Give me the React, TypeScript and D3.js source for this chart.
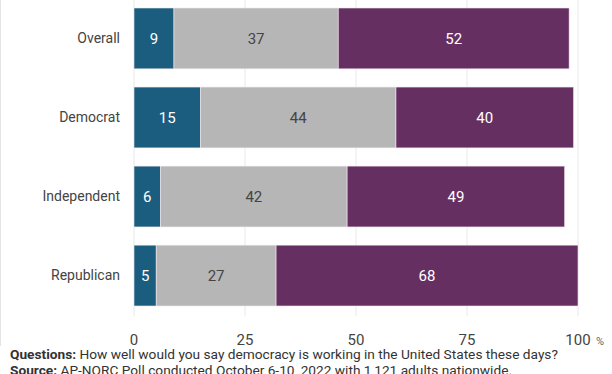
import React from 'react';
import * as d3 from 'd3';

const categories = ['Overall', 'Democrat', 'Independent', 'Republican'];
const seriesNames = ['Well', 'Neither', 'Not well'];
const wellValues = [9, 15, 6, 5];
const neitherValues = [37, 44, 42, 27];
const notWellValues = [52, 40, 49, 68];
const tickValues = [0, 25, 50, 75, 100];
const colors = ['#1b5d7e', '#b6b6b6', '#662f62'];
const labelColors = ['#ffffff', '#444444', '#ffffff'];

const W = 612;
const H = 374;
const FONT = 'Roboto, "Noto Sans", sans-serif';

const App = () => {
  const x = d3.scaleLinear().domain([0, 100]).range([134, 578]);
  const y = d3.scaleBand<string>()
    .domain(categories)
    .range([-1.1, 315.1])
    .paddingInner(0.23)
    .paddingOuter(0.115);

  const rows = categories.map((c, i) => ({
    category: c,
    well: wellValues[i],
    neither: neitherValues[i],
    notWell: notWellValues[i],
  }));
  const stacked = d3.stack<any>().keys(['well', 'neither', 'notWell'])(rows);

  return (
    <div style={{ position: 'fixed', left: 0, top: 0 }}>
      <svg width={W} height={H} style={{ display: 'block', background: '#fff' }}>
        {/* left border */}
        <line x1={0.5} x2={0.5} y1={0} y2={346} stroke="#e4e4e4" />

        {/* gridlines */}
        {tickValues.map(t => (
          <line key={t} x1={x(t)} x2={x(t)} y1={0} y2={316} stroke="#e8e8e8" strokeWidth={1} />
        ))}

        {/* bars */}
        {stacked.map((layer, si) => (
          <g key={seriesNames[si]}>
            {layer.map((d, i) => {
              const cat = categories[i];
              const x0 = x(d[0]);
              const x1 = x(d[1]);
              const by = y(cat)!;
              return (
                <g key={cat}>
                  <rect x={x0} y={by} width={x1 - x0} height={y.bandwidth()}
                    fill={colors[si]} stroke="#f1e9f0" strokeWidth={0.6} />
                  <text x={(x0 + x1) / 2} y={by + y.bandwidth() / 2} dy="0.35em"
                    textAnchor="middle" fontFamily={FONT} fontSize={15} fill={labelColors[si]}>
                    {d[1] - d[0]}
                  </text>
                </g>
              );
            })}
          </g>
        ))}

        {/* category labels */}
        {categories.map(c => (
          <text key={c} x={120} y={y(c)! + y.bandwidth() / 2} dy="0.35em" textAnchor="end"
            fontFamily={FONT} fontSize={14} fill="#444">
            {c}
          </text>
        ))}

        {/* x tick labels */}
        {tickValues.map(t => (
          <text key={t} x={x(t)} y={345} textAnchor="middle" fontFamily={FONT} fontSize={15} fill="#444">
            {t}
          </text>
        ))}
        <text x={596} y={345} fontFamily={FONT} fontSize={11} fill="#666">%</text>

        {/* notes */}
        <text x={10} y={359} fontFamily={FONT} fontSize={13.7} fill="#333">
          <tspan fontWeight="bold">Questions:</tspan> How well would you say democracy is working in the United States these days?
        </text>
        <text x={10} y={375} fontFamily={FONT} fontSize={13.7} fill="#333">
          <tspan fontWeight="bold">Source:</tspan> AP-NORC Poll conducted October 6-10, 2022 with 1,121 adults nationwide.
        </text>
      </svg>
    </div>
  );
};

export default App;
